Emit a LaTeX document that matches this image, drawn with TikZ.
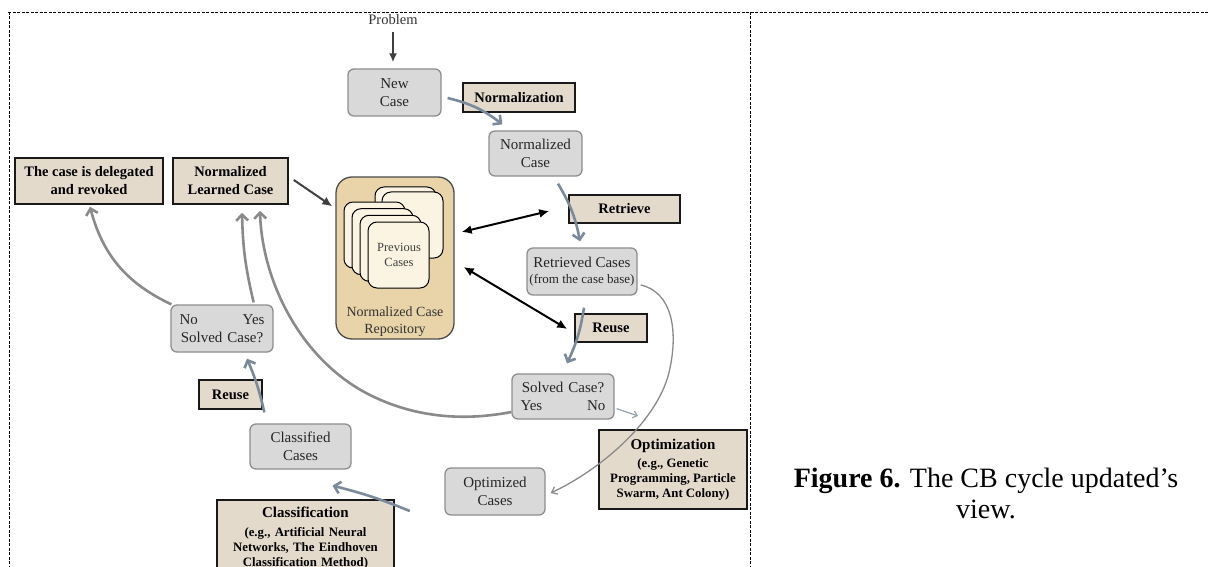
\documentclass[tikz,border=0pt]{standalone}
\usepackage{fontspec}
\setmainfont{Liberation Serif}
\usetikzlibrary{arrows.meta,calc}
\definecolor{gfill}{HTML}{D9D9D9}
\definecolor{gborder}{HTML}{8E8E8E}
\definecolor{tfill}{HTML}{E3DACC}
\definecolor{bluegray}{HTML}{7B8A9B}
\definecolor{curvegray}{HTML}{8A8A8A}
\definecolor{thingray}{HTML}{96A4B2}
\definecolor{repofill}{HTML}{E8D4A8}
\definecolor{cardfill}{HTML}{FBF4E2}
\newcommand\gfnt{\fontsize{15}{18}\selectfont}
\newcommand\tfnt{\fontsize{14.5}{18}\bfseries\selectfont}
\newcommand\bigb{\fontsize{15}{15}\bfseries\selectfont}
\newcommand\smallb{\fontsize{12.8}{15}\bfseries\selectfont}
\newcommand\capfnt{\fontsize{28}{31}\selectfont}
\tikzset{
  gbox/.style={draw=gborder, fill=gfill, rounded corners=6pt, line width=1.3pt, inner sep=0pt, align=center, font=\gfnt, text=black!85},
  tbox/.style={draw=black!90, fill=tfill, line width=1.6pt, inner sep=0pt, align=center, font=\tfnt},
  barrow/.style={draw=bluegray, line width=2.6pt, -{Straight Barb[length=6pt,width=12pt]}},
  garrow/.style={draw=curvegray, line width=2.6pt, -{Straight Barb[length=6pt,width=12pt]}},
  karrow/.style={draw=black, line width=2pt, -{Latex[length=10pt,width=9pt]}},
  kkarrow/.style={draw=black, line width=2pt, {Latex[length=10pt,width=9pt]}-{Latex[length=10pt,width=9pt]}},
  card/.style={draw=black, fill=cardfill, line width=1pt, rounded corners=9pt},
  frame/.style={draw=black, line width=0.9pt, dash pattern=on 3pt off 1.5pt},
}
\begin{document}
\begin{tikzpicture}[x=1pt,y=-1pt]
\clip (0,0) rectangle (1208,567);
\fill[white] (0,0) rectangle (1208,567);
% frame
\draw[frame] (8,12) -- (1208,12);
\draw[frame] (9,12) -- (9,567);
\draw[frame] (750,12) -- (750,567);

% repository
\node[draw=black!70, fill=repofill, line width=1.3pt, rounded corners=16pt, minimum width=118pt, minimum height=162pt] (repo) at (395,258) {};
\draw[card] (375,187) rectangle ++(61,66);
\draw[card] (382,192) rectangle ++(61,66);
\draw[card] (344,202) rectangle ++(61,66);
\draw[card] (352,208.7) rectangle ++(61,66);
\draw[card] (360,215.3) rectangle ++(61,66);
\draw[card] (368,222) rectangle ++(61,66);
\node[align=center, font=\fontsize{12.5}{15}\selectfont, text=black!75] (prev) at (399,254.5) {Previous\\Cases};
\node[align=center, font=\fontsize{14}{17}\selectfont, text=black!80] (repolbl) at (395,321.5) {Normalized Case\\Repository};

% nodes
\node[anchor=base, font=\fontsize{14.5}{17}\selectfont, text=black!80] (problem) at (393,25) {Problem};
\node[gbox, minimum width=93pt, minimum height=47pt] (newcase) at (394.5,92.5) {New\\Case};
\node[tbox, minimum width=112pt, minimum height=29pt] (normz) at (519,97.5) {Normalization};
\node[gbox, minimum width=93pt, minimum height=45pt] (normcase) at (535.5,153.5) {Normalized\\Case};
\node[tbox, minimum width=111pt, minimum height=28pt] (retrieve) at (624.5,209) {Retrieve};
\node[gbox, minimum width=110pt, minimum height=47pt] (retcases) at (582,271.5) {Retrieved Cases\\[-2pt]{\fontsize{13}{15}\selectfont (from the case base)}};
\node[tbox, minimum width=72pt, minimum height=28pt] (reuseR) at (611,328) {Reuse};
\node[gbox, minimum width=102pt, minimum height=45pt, text width=85pt] (solvedR) at (563,396.5) {Solved Case?\\Yes\hfill No};
\node[tbox, font=\smallb, minimum width=148pt, minimum height=79pt] (optim) at (673,469.5) {\bigb Optimization\\[3.5pt]\smallb (e.g., Genetic\\Programming, Particle\\Swarm, Ant Colony)};
\node[gbox, minimum width=100pt, minimum height=47pt] (optcases) at (495,491.5) {Optimized\\Cases};
\node[gbox, minimum width=101pt, minimum height=45pt] (classcases) at (300.5,446.5) {Classified\\Cases};
\node[tbox, font=\smallb, anchor=north, text width=177pt, inner ysep=7pt] (classif) at (305.5,499) {\bigb Classification\\[4pt]\smallb (e.g., Artificial Neural\\Networks, The Eindhoven\\Classification Method)\\~\\~};
\node[tbox, minimum width=63pt, minimum height=29pt] (reuseL) at (230.5,394.5) {Reuse};
\node[gbox, minimum width=102pt, minimum height=47pt, text width=85pt] (solvedL) at (222,328.5) {No\hfill Yes\\Solved Case?};
\node[tbox, minimum width=148pt, minimum height=46pt] (deleg) at (89,181) {The case is delegated\\and revoked};
\node[tbox, minimum width=115pt, minimum height=46pt] (nlc) at (230.5,181) {Normalized\\Learned Case};

% caption
\node[anchor=base, font=\capfnt] (cap1) at (986,487) {\textbf{Figure 6.} The CB cycle updated’s};
\node[anchor=base, font=\capfnt] (cap2) at (986,518) {view.};

% connectors
\draw[draw=black!75, line width=2pt, -{Latex[length=9pt,width=8pt]}] ($(problem.base)+(0,7)$) -- ($(newcase.north)+(-1.5,-6)$);
\draw[barrow] ($(newcase.east)+(6,5.5)$) to[bend left=12] ($(normcase.north west)+(14,-6)$);
\draw[barrow] ($(normcase.south)+(22.5,7)$) to[bend left=10] ($(retcases.north)+(-2,-6)$);
\draw[barrow] ($(retcases.south)+(2,12)$) to[bend left=8] ($(solvedR.north)+(4,-10)$);
\coordinate (noend) at (638,416);
\draw[draw=thingray, line width=1.2pt, -{Straight Barb[length=4pt,width=7pt]}] ($(solvedR.south east)+(2,-11)$) -- (noend);
\draw[draw=curvegray, line width=1.3pt, -{Straight Barb[length=5pt,width=8pt]}] ($(retcases.east)+(3,13.5)$) .. controls (672,292) and (678,330) .. (670,368) .. controls (660,420) and (600,470) .. ($(optcases.east)+(5,1.5)$);
\draw[kkarrow] ($(repo.east)+(7,-26)$) -- ($(retrieve.west)+(-19,2)$);
\draw[kkarrow] ($(repo.east)+(9,9)$) -- ($(reuseR.west)+(-7,1)$);
\draw[karrow, draw=black!75] ($(nlc.east)+(5,-1)$) -- ($(repo.north west)+(-3,30)$);
\draw[garrow] ($(solvedR.west)+(0,15.5)$) .. controls (470,420) and (420,420) .. (370,395) .. controls (300,360) and (262,280) .. ($(nlc.south)+(29.5,6)$);
\draw[garrow] ($(solvedL.north east)+(-20,-2)$) to[bend left=6] ($(nlc.south)+(11.5,8)$);
\draw[garrow] ($(solvedL.north west)+(1,0)$) to[bend left=25] ($(deleg.south)+(1,2)$);
\draw[barrow] ($(classcases.north west)+(15,-11)$) to[bend right=5] ($(solvedL.south)+(25,6)$);
\draw[barrow] ($(classif.north east)+(15,12)$) to[bend right=4] ($(classcases.south)+(32,16)$);
\end{tikzpicture}
\end{document}
